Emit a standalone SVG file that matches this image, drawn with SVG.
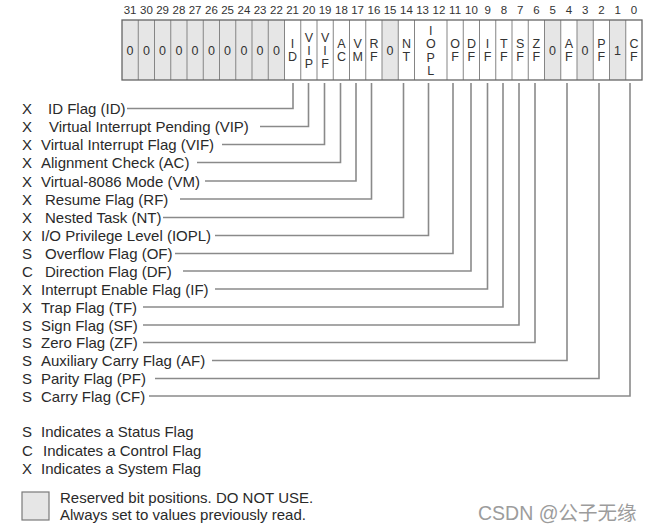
<svg xmlns="http://www.w3.org/2000/svg" width="660" height="530" viewBox="0 0 660 530">
<style>
.bg{fill:#ffffff}
.num{font-family:"Liberation Sans",Arial,sans-serif;font-size:11.5px;fill:#333;text-anchor:middle}
.cell{font-family:"Liberation Sans",Arial,sans-serif;font-size:12.5px;fill:#333;text-anchor:middle}
.res{fill:#e6e6e6;stroke:none}
.div{stroke:#858585;stroke-width:1;fill:none}
.frame{fill:none;stroke:#666;stroke-width:1.3}
.lb{font-family:"Liberation Sans",Arial,sans-serif;font-size:15px;fill:#2a2a2a}
.conn{fill:none;stroke:#8a8a8a;stroke-width:1.6}
.wm{font-family:"Liberation Sans","Noto Sans CJK SC",sans-serif;font-size:19.5px;fill:#9c9c9c}
</style>
<rect class="bg" x="0" y="0" width="660" height="530"/>
<g id="bit-numbers">
<text class="num" x="130.1" y="14">31</text><text class="num" x="146.4" y="14">30</text><text class="num" x="162.6" y="14">29</text><text class="num" x="178.9" y="14">28</text><text class="num" x="195.1" y="14">27</text><text class="num" x="211.4" y="14">26</text><text class="num" x="227.6" y="14">25</text><text class="num" x="243.9" y="14">24</text><text class="num" x="260.1" y="14">23</text><text class="num" x="276.4" y="14">22</text><text class="num" x="292.6" y="14">21</text><text class="num" x="308.9" y="14">20</text><text class="num" x="325.1" y="14">19</text><text class="num" x="341.4" y="14">18</text><text class="num" x="357.6" y="14">17</text><text class="num" x="373.9" y="14">16</text><text class="num" x="390.1" y="14">15</text><text class="num" x="406.4" y="14">14</text><text class="num" x="422.6" y="14">13</text><text class="num" x="438.9" y="14">12</text><text class="num" x="455.1" y="14">11</text><text class="num" x="471.4" y="14">10</text><text class="num" x="487.6" y="14">9</text><text class="num" x="503.9" y="14">8</text><text class="num" x="520.1" y="14">7</text><text class="num" x="536.4" y="14">6</text><text class="num" x="552.6" y="14">5</text><text class="num" x="568.9" y="14">4</text><text class="num" x="585.1" y="14">3</text><text class="num" x="601.4" y="14">2</text><text class="num" x="617.6" y="14">1</text><text class="num" x="633.9" y="14">0</text>
</g>
<g id="register">
<rect class="res" x="122" y="20" width="162.5" height="60"/>
<rect class="res" x="382" y="20" width="16.25" height="60"/>
<rect class="res" x="544.5" y="20" width="16.25" height="60"/>
<rect class="res" x="577" y="20" width="16.25" height="60"/>
<rect class="res" x="609.5" y="20" width="16.25" height="60"/>
<path class="div" d="M138.25 20V80M154.5 20V80M170.75 20V80M187 20V80M203.25 20V80M219.5 20V80M235.75 20V80M252 20V80M268.25 20V80M284.5 20V80M300.75 20V80M317 20V80M333.25 20V80M349.5 20V80M365.75 20V80M382 20V80M398.25 20V80M414.5 20V80M447 20V80M463.25 20V80M479.5 20V80M495.75 20V80M512 20V80M528.25 20V80M544.5 20V80M560.75 20V80M577 20V80M593.25 20V80M609.5 20V80M625.75 20V80"/>
<rect class="frame" x="122" y="20" width="520" height="60"/>
<g id="reserved-values">
<text class="cell" x="130.1" y="54.5">0</text><text class="cell" x="146.4" y="54.5">0</text><text class="cell" x="162.6" y="54.5">0</text><text class="cell" x="178.9" y="54.5">0</text><text class="cell" x="195.1" y="54.5">0</text><text class="cell" x="211.4" y="54.5">0</text><text class="cell" x="227.6" y="54.5">0</text><text class="cell" x="243.9" y="54.5">0</text><text class="cell" x="260.1" y="54.5">0</text><text class="cell" x="276.4" y="54.5">0</text>
<text class="cell" x="390.1" y="54.5">0</text><text class="cell" x="552.6" y="54.5">0</text><text class="cell" x="585.1" y="54.5">0</text><text class="cell" x="617.6" y="54.5">1</text>
</g>
<g id="cell-ID"><text class="cell" x="292.6" y="48">I</text><text class="cell" x="292.6" y="61">D</text></g>
<g id="cell-VIP"><text class="cell" x="308.9" y="41.5">V</text><text class="cell" x="308.9" y="54.5">I</text><text class="cell" x="308.9" y="67.5">P</text></g>
<g id="cell-VIF"><text class="cell" x="325.1" y="41.5">V</text><text class="cell" x="325.1" y="54.5">I</text><text class="cell" x="325.1" y="67.5">F</text></g>
<g id="cell-AC"><text class="cell" x="341.4" y="48">A</text><text class="cell" x="341.4" y="61">C</text></g>
<g id="cell-VM"><text class="cell" x="357.6" y="48">V</text><text class="cell" x="357.6" y="61">M</text></g>
<g id="cell-RF"><text class="cell" x="373.9" y="48">R</text><text class="cell" x="373.9" y="61">F</text></g>
<g id="cell-NT"><text class="cell" x="406.4" y="48">N</text><text class="cell" x="406.4" y="61">T</text></g>
<g id="cell-IOPL"><text class="cell" x="430.75" y="34.5">I</text><text class="cell" x="430.75" y="48">O</text><text class="cell" x="430.75" y="61.5">P</text><text class="cell" x="430.75" y="75">L</text></g>
<g id="cell-OF"><text class="cell" x="455.1" y="48">O</text><text class="cell" x="455.1" y="61">F</text></g>
<g id="cell-DF"><text class="cell" x="471.4" y="48">D</text><text class="cell" x="471.4" y="61">F</text></g>
<g id="cell-IF"><text class="cell" x="487.6" y="48">I</text><text class="cell" x="487.6" y="61">F</text></g>
<g id="cell-TF"><text class="cell" x="503.9" y="48">T</text><text class="cell" x="503.9" y="61">F</text></g>
<g id="cell-SF"><text class="cell" x="520.1" y="48">S</text><text class="cell" x="520.1" y="61">F</text></g>
<g id="cell-ZF"><text class="cell" x="536.4" y="48">Z</text><text class="cell" x="536.4" y="61">F</text></g>
<g id="cell-AF"><text class="cell" x="568.9" y="48">A</text><text class="cell" x="568.9" y="61">F</text></g>
<g id="cell-PF"><text class="cell" x="601.4" y="48">P</text><text class="cell" x="601.4" y="61">F</text></g>
<g id="cell-CF"><text class="cell" x="633.9" y="48">C</text><text class="cell" x="633.9" y="61">F</text></g>
</g>
<g id="connectors">
<path class="conn" d="M127 108.5H293V83"/>
<path class="conn" d="M260 126.5H308.5V83"/>
<path class="conn" d="M222 144.5H324.5V83"/>
<path class="conn" d="M197 162.5H340.5V83"/>
<path class="conn" d="M205 181H356V83"/>
<path class="conn" d="M180 199H371.5V83"/>
<path class="conn" d="M163 217.5H403.5V83"/>
<path class="conn" d="M215 235.5H428.5V83"/>
<path class="conn" d="M175 253.5H453V83"/>
<path class="conn" d="M183 271H471V83"/>
<path class="conn" d="M215 289H487.5V83"/>
<path class="conn" d="M143 307H503V83"/>
<path class="conn" d="M143 325H519V83"/>
<path class="conn" d="M143 342.5H535V83"/>
<path class="conn" d="M212 360.5H567V83"/>
<path class="conn" d="M155 378.5H599V83"/>
<path class="conn" d="M149 396H630V83"/>
</g>
<g id="label-ID"><text class="lb" y="114"><tspan x="22">X</tspan><tspan x="48">ID Flag (ID)</tspan></text></g>
<g id="label-VIP"><text class="lb" y="132"><tspan x="22">X</tspan><tspan x="49">Virtual Interrupt Pending (VIP)</tspan></text></g>
<g id="label-VIF"><text class="lb" y="150"><tspan x="22">X</tspan><tspan x="41">Virtual Interrupt Flag (VIF)</tspan></text></g>
<g id="label-AC"><text class="lb" y="168"><tspan x="22">X</tspan><tspan x="41">Alignment Check (AC)</tspan></text></g>
<g id="label-VM"><text class="lb" y="186.5"><tspan x="22">X</tspan><tspan x="41">Virtual-8086 Mode (VM)</tspan></text></g>
<g id="label-RF"><text class="lb" y="204.5"><tspan x="22">X</tspan><tspan x="45">Resume Flag (RF)</tspan></text></g>
<g id="label-NT"><text class="lb" y="223"><tspan x="22">X</tspan><tspan x="45">Nested Task (NT)</tspan></text></g>
<g id="label-IOPL"><text class="lb" y="241"><tspan x="22">X</tspan><tspan x="41">I/O Privilege Level (IOPL)</tspan></text></g>
<g id="label-OF"><text class="lb" y="259"><tspan x="22">S</tspan><tspan x="45">Overflow Flag (OF)</tspan></text></g>
<g id="label-DF"><text class="lb" y="276.5"><tspan x="22">C</tspan><tspan x="45">Direction Flag (DF)</tspan></text></g>
<g id="label-IF"><text class="lb" y="294.5"><tspan x="22">X</tspan><tspan x="41">Interrupt Enable Flag (IF)</tspan></text></g>
<g id="label-TF"><text class="lb" y="312.5"><tspan x="22">X</tspan><tspan x="41">Trap Flag (TF)</tspan></text></g>
<g id="label-SF"><text class="lb" y="330.5"><tspan x="22">S</tspan><tspan x="41">Sign Flag (SF)</tspan></text></g>
<g id="label-ZF"><text class="lb" y="348"><tspan x="22">S</tspan><tspan x="41">Zero Flag (ZF)</tspan></text></g>
<g id="label-AF"><text class="lb" y="366"><tspan x="22">S</tspan><tspan x="41">Auxiliary Carry Flag (AF)</tspan></text></g>
<g id="label-PF"><text class="lb" y="384"><tspan x="22">S</tspan><tspan x="41">Parity Flag (PF)</tspan></text></g>
<g id="label-CF"><text class="lb" y="401.5"><tspan x="22">S</tspan><tspan x="41">Carry Flag (CF)</tspan></text></g>
<g id="legend">
<text class="lb" y="437"><tspan x="22">S</tspan><tspan x="41">Indicates a Status Flag</tspan></text>
<text class="lb" y="455.5"><tspan x="22">C</tspan><tspan x="43">Indicates a Control Flag</tspan></text>
<text class="lb" y="473.5"><tspan x="22">X</tspan><tspan x="41">Indicates a System Flag</tspan></text>
<rect x="22" y="492" width="27" height="28" fill="#e6e6e6" stroke="#7a7a7a" stroke-width="1.2"/>
<text class="lb" x="60" y="503">Reserved bit positions. DO NOT USE.</text>
<text class="lb" x="60" y="519.5">Always set to values previously read.</text>
</g>
<text class="wm" x="478" y="520">CSDN @公子无缘</text>
</svg>
